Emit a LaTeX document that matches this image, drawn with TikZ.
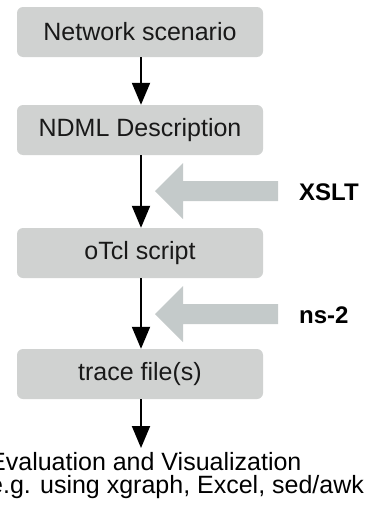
\documentclass[tikz,border=0pt]{standalone}
\usepackage{fontspec}
\setmainfont{Liberation Sans}
\usetikzlibrary{arrows.meta}
\definecolor{boxgray}{RGB}{208,210,209}
\definecolor{arrowgray}{RGB}{196,202,202}
\begin{document}
\begin{tikzpicture}[x=1pt,y=-1pt,
  stepbox/.style={fill=boxgray, rounded corners=6pt, minimum width=246pt, minimum height=50pt, inner sep=0pt, text=black!90, font=\fontsize{25}{30}\selectfont},
  flow/.style={line width=2pt, -{Triangle[width=18pt,length=22pt]}},
  lab/.style={font=\bfseries\fontsize{24}{28}\selectfont, anchor=west, inner sep=0pt}
]
\useasboundingbox (0,0) rectangle (367,514);
\node[stepbox] (n1) at (140,32) {Network scenario};
\node[stepbox] (n2) at (140,130) {NDML Description};
\node[stepbox] (n3) at (140,253) {oTcl script};
\node[stepbox] (n4) at (140,374) {trace file(s)};
\coordinate (e) at (141,448);
\node[anchor=north west, align=left, inner sep=0pt, font=\fontsize{25}{23}\selectfont] (ev) at (-11,452) {Evaluation and Visualization\\e.g. using xgraph, Excel, sed/awk};
\draw[flow] (n1.south -| 141,0) -- (n2.north -| 141,0);
\draw[flow] (n2.south -| 141,0) -- (n3.north -| 141,0);
\draw[flow] (n3.south -| 141,0) -- (n4.north -| 141,0);
\draw[flow] (n4.south -| 141,0) -- (e);
% gray arrows
\coordinate (g1) at (155,191);
\coordinate (g2) at (155,314);
\foreach \g in {g1,g2}{
  \fill[arrowgray] (\g) -- ++(28,-28) -- ++(0,18) -- ++(95,0) -- ++(0,20) -- ++(-95,0) -- ++(0,18) -- cycle;
}
\node[lab] (xslt) at (299,192) {XSLT};
\node[lab] (ns) at (299,315) {ns-2};
\end{tikzpicture}
\end{document}
